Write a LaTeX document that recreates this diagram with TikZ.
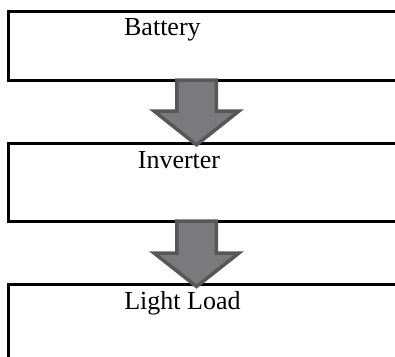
\documentclass[tikz,border=0pt]{standalone}
\usepackage{fontspec}
\setmainfont{Liberation Serif}
\usetikzlibrary{calc}
\definecolor{arrowedge}{HTML}{575757}
\definecolor{arrowfill}{HTML}{7A7A7C}
\begin{document}
\begin{tikzpicture}[x=1pt,y=-1pt,
  box/.style={draw=black, line width=3pt, rectangle, anchor=north west,
    minimum width=430pt, inner sep=0pt, outer sep=0pt},
  lbl/.style={anchor=base, font=\fontsize{26}{30}\selectfont, inner sep=0pt},
  blockarrow/.style={draw=arrowedge, fill=arrowfill, line width=3.5pt, line join=miter}]
\useasboundingbox (0,0) rectangle (395,356);
\clip (0,0) rectangle (395,356);
% boxes
\node[box, minimum height=69pt] (b1) at (8.8,11) {};
\node[box, minimum height=78pt] (b2) at (8.8,143) {};
\node[box, minimum height=150pt] (b3) at (8.8,284) {};
% labels
\node[lbl] (t1) at (162.4,35.7) {Battery};
\node[lbl] (t2) at (179,168.3) {Inverter};
\node[lbl] (t3) at (182.4,309.3) {Light Load};
% arrows
\coordinate (ax) at (196.5,0);
\coordinate (s1) at (b1.south -| ax);
\coordinate (e1) at ($(b2.north -| ax)+(0,1.8)$);
\coordinate (s2) at (b2.south -| ax);
\coordinate (e2) at ($(b3.north -| ax)+(0,2.5)$);
\draw[blockarrow] ($(s1)+(-19.75,0)$) -- ($(s1)+(-19.75,31)$) -- ($(s1)+(-42.5,31)$)
  -- (e1) -- ($(s1)+(42.5,31)$) -- ($(s1)+(19.75,31)$) -- ($(s1)+(19.75,0)$) -- cycle;
\draw[blockarrow] ($(s2)+(-19.75,0)$) -- ($(s2)+(-19.75,32)$) -- ($(s2)+(-42.5,32)$)
  -- (e2) -- ($(s2)+(42.5,32)$) -- ($(s2)+(19.75,32)$) -- ($(s2)+(19.75,0)$) -- cycle;
\end{tikzpicture}
\end{document}
